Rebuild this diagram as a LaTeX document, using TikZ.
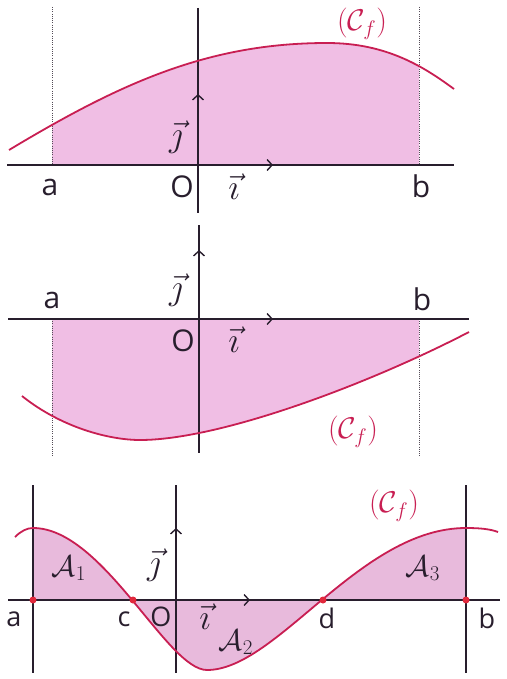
\RequirePackage{fix-cm}
\documentclass[tikz,border=0pt]{standalone}
\usepackage{fontspec}
\setmainfont{Open Sans}
\usetikzlibrary{arrows.meta}
\definecolor{curvec}{RGB}{200,30,82}
\definecolor{fillc}{RGB}{240,190,228}
\definecolor{fillm}{RGB}{232,186,220}
\definecolor{axisc}{RGB}{40,30,45}
\definecolor{dotc}{RGB}{225,40,60}
\tikzset{
 axisline/.style={draw=axisc, line width=1.4pt},
 guide/.style={draw=axisc!80, line width=1pt, dash pattern=on 1pt off 1.2pt},
 frameline/.style={draw=axisc, line width=1.3pt},
 curveline/.style={draw=curvec, line width=1.8pt},
 areafill/.style={fill=fillc},
 unitvec/.style={draw=axisc, line width=1.4pt, -{Straight Barb[length=5pt,width=11pt]}},
 lbl/.style={font=\fontsize{30}{32}\selectfont, text=axisc, inner sep=0pt},
 slbl/.style={font=\fontsize{27}{29}\selectfont, text=axisc, inner sep=0pt},
 vlbl/.style={font=\fontsize{36}{38}\selectfont, text=axisc, inner sep=0pt},
 cfl/.style={font=\fontsize{30}{32}\selectfont, text=curvec, inner sep=0pt},
 arl/.style={font=\fontsize{30}{32}\selectfont, text=axisc, inner sep=0pt},
 zdot/.style={circle, fill=dotc, inner sep=0pt, minimum size=7pt},
}
\begin{document}
\begin{tikzpicture}[x=1pt,y=-1pt]
\useasboundingbox (0,0) rectangle (506,679);
% ---------------- Panel 1 ----------------
\coordinate (O1) at (198,165);
\coordinate (X1l) at (7,165); \coordinate (X1r) at (454,165);
\coordinate (Y1t) at (198,8); \coordinate (Y1b) at (198,213);
\coordinate (A1t) at (52,7); \coordinate (A1b) at (52,165);
\coordinate (B1t) at (419,7); \coordinate (B1b) at (419,165);
\coordinate (I1) at (273,165); \coordinate (J1) at (198,94);
\begin{scope}
\clip (52,0) rectangle (419,165);
\fill[areafill] (9,150) .. controls (119,84) and (207,43) .. (327,43) .. controls (387,43) and (424,67) .. (454,89) -- (454,165) -- (9,165) -- cycle;
\end{scope}
\draw[guide] (A1t) -- (A1b);
\draw[guide] (B1t) -- (B1b);
\draw[axisline] (X1l) -- (X1r);
\draw[axisline] (Y1t) -- (Y1b);
\draw[curveline] (9,150) .. controls (119,84) and (207,43) .. (327,43) .. controls (387,43) and (424,67) .. (454,89);
\draw[unitvec] (O1) -- (I1);
\draw[unitvec] (O1) -- (J1);
\node[lbl] (la1) at (50,187) {a};
\node[lbl] (lb1) at (421,186) {b};
\node[lbl] (lO1) at (182,187) {O};
\node[vlbl] (li1) at (234,187) {$\vec{\imath}$};
\node[vlbl] (lj1) at (176,137) {$\vec{\jmath}$};
\node[cfl] (lc1) at (362,24) {$(\mathcal{C}_f)$};
% ---------------- Panel 2 ----------------
\coordinate (O2) at (199,319);
\coordinate (X2l) at (8,319); \coordinate (X2r) at (469,319);
\coordinate (Y2t) at (199,225); \coordinate (Y2b) at (199,453);
\coordinate (A2t) at (52,319); \coordinate (A2b) at (52,456);
\coordinate (B2t) at (419,319); \coordinate (B2b) at (419,456);
\coordinate (I2) at (273,319); \coordinate (J2) at (199,250);
\begin{scope}
\clip (52,319) rectangle (419,470);
\fill[areafill] (22,396) .. controls (62,428) and (110,440) .. (140,440) .. controls (220,440) and (369,384) .. (469,332) -- (469,319) -- (22,319) -- cycle;
\end{scope}
\draw[guide] (A2t) -- (A2b);
\draw[guide] (B2t) -- (B2b);
\draw[axisline] (X2l) -- (X2r);
\draw[axisline] (Y2t) -- (Y2b);
\draw[curveline] (22,396) .. controls (62,428) and (110,440) .. (140,440) .. controls (220,440) and (369,384) .. (469,332);
\draw[unitvec] (O2) -- (I2);
\draw[unitvec] (O2) -- (J2);
\node[lbl] (la2) at (52,300) {a};
\node[lbl] (lb2) at (422,299) {b};
\node[lbl] (lO2) at (183,341) {O};
\node[vlbl] (li2) at (234,340) {$\vec{\imath}$};
\node[vlbl] (lj2) at (176,290) {$\vec{\jmath}$};
\node[cfl] (lc2) at (353,432) {$(\mathcal{C}_f)$};
% ---------------- Panel 3 ----------------
\coordinate (O3) at (176,600);
\coordinate (X3l) at (8,600); \coordinate (X3r) at (500,600);
\coordinate (Y3t) at (176,485); \coordinate (Y3b) at (176,673);
\coordinate (A3t) at (33,485); \coordinate (A3b) at (33,673);
\coordinate (B3t) at (466,485); \coordinate (B3b) at (466,673);
\coordinate (I3) at (250,600); \coordinate (J3) at (176,528);
\fill[fill=fillm] (33,600) -- (33,528) .. controls (103,528) and (167,670) .. (207,670) .. controls (277,670) and (360,528) .. (466,528) -- (466,600) -- cycle;
\draw[frameline] (A3t) -- (A3b);
\draw[frameline] (B3t) -- (B3b);
\draw[axisline] (X3l) -- (X3r);
\draw[axisline] (Y3t) -- (Y3b);
\draw[curveline] (15,537) .. controls (21,531) and (27,528) .. (33,528) .. controls (103,528) and (167,670) .. (207,670) .. controls (277,670) and (360,528) .. (466,528) .. controls (480,528) and (490,529) .. (498,532);
\draw[unitvec] (O3) -- (I3);
\draw[unitvec] (O3) -- (J3);
\node[zdot] (pa) at (33,600) {};
\node[zdot] (pc) at (133,600) {};
\node[zdot] (pd) at (323,600) {};
\node[zdot] (pb) at (466,600) {};
\node[slbl] (la3) at (14,619) {a};
\node[slbl] (lcc) at (124,619) {c};
\node[slbl] (lO3) at (161,617) {O};
\node[slbl] (ld3) at (327,618) {d};
\node[slbl] (lb3) at (487,618) {b};
\node[vlbl] (li3) at (205,617) {$\vec{\imath}$};
\node[vlbl] (lj3) at (154,565) {$\vec{\jmath}$};
\node[arl] (ar1) at (69,568) {$\mathcal{A}_1$};
\node[arl] (ar2) at (236,642) {$\mathcal{A}_2$};
\node[arl] (ar3) at (423,568) {$\mathcal{A}_3$};
\node[cfl] (lc3) at (394,506) {$(\mathcal{C}_f)$};
\end{tikzpicture}
\end{document}
